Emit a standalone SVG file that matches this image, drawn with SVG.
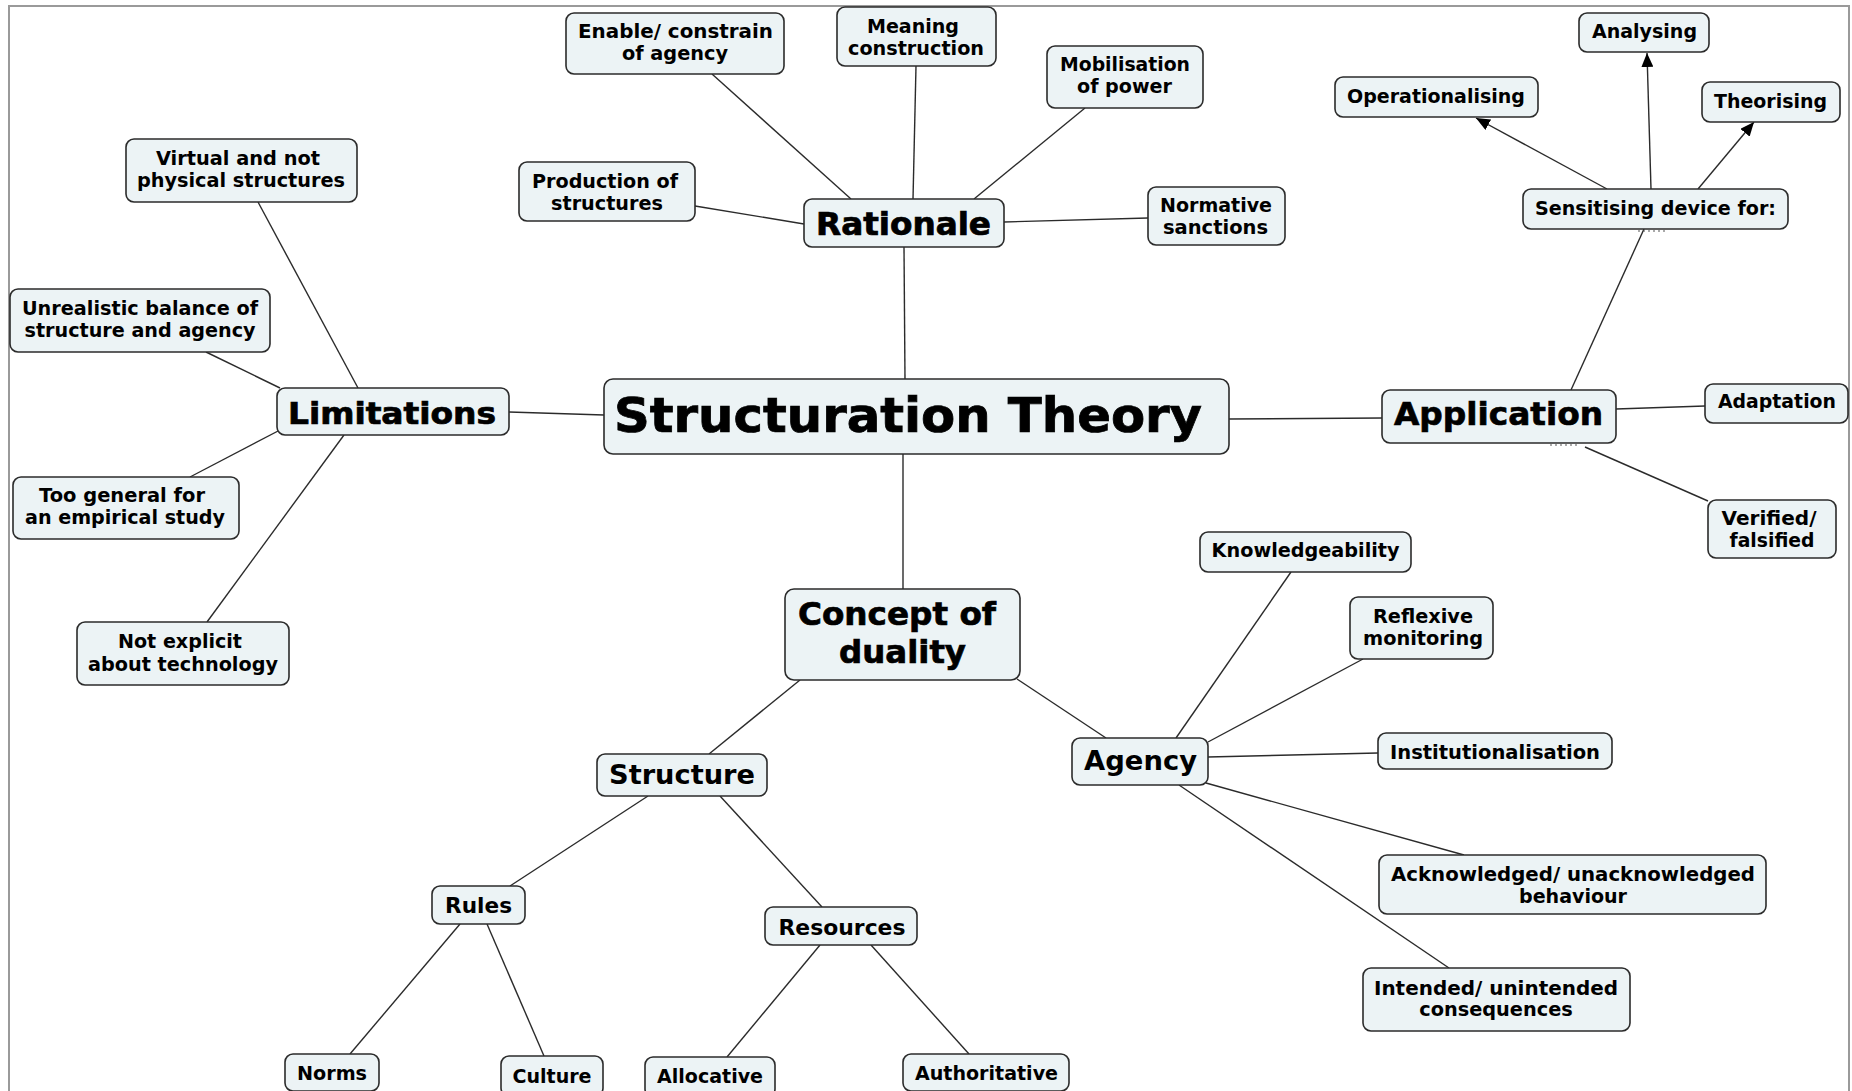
<svg xmlns="http://www.w3.org/2000/svg" width="1852" height="1091" viewBox="0 0 1852 1091">
<style>
.n rect{fill:#ecf3f5;stroke:#2b2b2b;stroke-width:1.6}
text{font-family:"DejaVu Sans","Verdana",sans-serif;font-weight:bold;fill:#000;text-anchor:middle}
.c{font-family:"DejaVu Sans Condensed","DejaVu Sans","Liberation Sans",sans-serif}
.h{stroke:#000;stroke-width:0.7}
.s{font-size:19px}
.m{font-size:20px}
#connectors line{stroke:#2b2b2b;stroke-width:1.4}
.dots{stroke:#555;stroke-width:1.2;stroke-dasharray:2 3}
</style>
<defs>
<marker id="arr" markerUnits="userSpaceOnUse" markerWidth="14" markerHeight="12" refX="14" refY="6" orient="auto">
<path d="M0,0 L14,6 L0,12 z" fill="#000"/>
</marker>
</defs>
<rect x="0" y="0" width="1852" height="1091" fill="#fff"/>
<path d="M9,1091 V6 H1849 V1091" fill="none" stroke="#9a9a9a" stroke-width="2"/>
<g id="connectors">
<line x1="904" y1="247" x2="905" y2="379"/>
<line x1="712" y1="74" x2="851" y2="199"/>
<line x1="916" y1="66" x2="913" y2="199"/>
<line x1="1085" y1="108" x2="974" y2="199"/>
<line x1="695" y1="206" x2="804" y2="224"/>
<line x1="1004" y1="222" x2="1148" y2="218"/>
<line x1="509" y1="412" x2="604" y2="415"/>
<line x1="258" y1="202" x2="358" y2="388"/>
<line x1="206" y1="352" x2="280" y2="388"/>
<line x1="280" y1="430" x2="190" y2="477"/>
<line x1="344" y1="435" x2="207" y2="622"/>
<line x1="1229" y1="419" x2="1382" y2="418"/>
<line x1="1571" y1="390" x2="1644" y2="229"/>
<line x1="1607" y1="189" x2="1476" y2="118" marker-end="url(#arr)"/>
<line x1="1651" y1="189" x2="1647" y2="53" marker-end="url(#arr)"/>
<line x1="1698" y1="189" x2="1754" y2="122" marker-end="url(#arr)"/>
<line x1="1616" y1="409" x2="1705" y2="406"/>
<line x1="1585" y1="447" x2="1708" y2="501"/>
<line x1="903" y1="454" x2="903" y2="589"/>
<line x1="800" y1="680" x2="709" y2="754"/>
<line x1="1017" y1="679" x2="1106" y2="738"/>
<line x1="648" y1="796" x2="510" y2="886"/>
<line x1="720" y1="796" x2="822" y2="907"/>
<line x1="460" y1="924" x2="350" y2="1054"/>
<line x1="487" y1="924" x2="544" y2="1056"/>
<line x1="820" y1="945" x2="727" y2="1057"/>
<line x1="871" y1="945" x2="969" y2="1054"/>
<line x1="1176" y1="738" x2="1291" y2="572"/>
<line x1="1208" y1="742" x2="1363" y2="659"/>
<line x1="1208" y1="757" x2="1378" y2="753"/>
<line x1="1206" y1="783" x2="1464" y2="855"/>
<line x1="1179" y1="785" x2="1449" y2="968"/>
</g>
<line class="dots" x1="1638" y1="231" x2="1667" y2="231"/>
<line class="dots" x1="1550" y1="445" x2="1579" y2="445"/>

<g id="n-theory" class="n"><rect x="604" y="379" width="625" height="75" rx="9"/><text class="c h" x="908" y="432" font-size="48" textLength="588" lengthAdjust="spacingAndGlyphs">Structuration Theory</text></g>
<g id="n-rationale" class="n"><rect x="804" y="199" width="200" height="48" rx="8"/><text class="c h" x="903.5" y="235" font-size="32" textLength="175" lengthAdjust="spacingAndGlyphs">Rationale</text></g>
<g id="n-enable" class="n"><rect x="566" y="13" width="218" height="61" rx="8"/><text class="c m" x="675.5" y="38" textLength="195" lengthAdjust="spacingAndGlyphs">Enable/ constrain</text><text class="c m" x="675" y="60" textLength="106" lengthAdjust="spacingAndGlyphs">of agency</text></g>
<g id="n-meaning" class="n"><rect x="837" y="7" width="159" height="59" rx="8"/><text class="c m" x="913" y="33" textLength="92" lengthAdjust="spacingAndGlyphs">Meaning</text><text class="c m" x="916" y="55" textLength="136" lengthAdjust="spacingAndGlyphs">construction</text></g>
<g id="n-mobilisation" class="n"><rect x="1047" y="46" width="156" height="62" rx="8"/><text class="c m" x="1125" y="71" textLength="130" lengthAdjust="spacingAndGlyphs">Mobilisation</text><text class="c m" x="1124.5" y="93" textLength="95" lengthAdjust="spacingAndGlyphs">of power</text></g>
<g id="n-production" class="n"><rect x="519" y="162" width="176" height="59" rx="8"/><text class="c m" x="605" y="188" textLength="146" lengthAdjust="spacingAndGlyphs">Production of</text><text class="c m" x="607" y="210" textLength="112" lengthAdjust="spacingAndGlyphs">structures</text></g>
<g id="n-normative" class="n"><rect x="1148" y="187" width="137" height="58" rx="8"/><text class="c m" x="1216" y="212" textLength="112" lengthAdjust="spacingAndGlyphs">Normative</text><text class="c m" x="1215.5" y="234" textLength="105" lengthAdjust="spacingAndGlyphs">sanctions</text></g>
<g id="n-limitations" class="n"><rect x="277" y="388" width="232" height="47" rx="8"/><text class="c h" x="392" y="424" font-size="31" textLength="208" lengthAdjust="spacingAndGlyphs">Limitations</text></g>
<g id="n-virtual" class="n"><rect x="126" y="139" width="231" height="63" rx="8"/><text class="c m" x="238" y="165" textLength="164" lengthAdjust="spacingAndGlyphs">Virtual and not</text><text class="c m" x="241" y="187" textLength="208" lengthAdjust="spacingAndGlyphs">physical structures</text></g>
<g id="n-unrealistic" class="n"><rect x="10" y="289" width="260" height="63" rx="8"/><text class="c m" x="140" y="315" textLength="236" lengthAdjust="spacingAndGlyphs">Unrealistic balance of</text><text class="c m" x="140" y="337" textLength="231" lengthAdjust="spacingAndGlyphs">structure and agency</text></g>
<g id="n-toogeneral" class="n"><rect x="13" y="477" width="226" height="62" rx="8"/><text class="s" x="122" y="502" textLength="166" lengthAdjust="spacingAndGlyphs">Too general for</text><text class="s" x="125" y="524" textLength="200" lengthAdjust="spacingAndGlyphs">an empirical study</text></g>
<g id="n-notexplicit" class="n"><rect x="77" y="622" width="212" height="63" rx="8"/><text class="s" x="180" y="648" textLength="124" lengthAdjust="spacingAndGlyphs">Not explicit</text><text class="s" x="183" y="671" textLength="190" lengthAdjust="spacingAndGlyphs">about technology</text></g>
<g id="n-application" class="n"><rect x="1382" y="390" width="234" height="53" rx="8"/><text class="h" x="1498.5" y="425" font-size="32" textLength="209" lengthAdjust="spacingAndGlyphs">Application</text></g>
<g id="n-sensitising" class="n"><rect x="1523" y="189" width="265" height="40" rx="8"/><text class="s" x="1655.5" y="215" textLength="241" lengthAdjust="spacingAndGlyphs">Sensitising device for:</text></g>
<g id="n-operationalising" class="n"><rect x="1335" y="77" width="203" height="40" rx="8"/><text class="s" x="1436" y="102.6" textLength="178" lengthAdjust="spacingAndGlyphs">Operationalising</text></g>
<g id="n-analysing" class="n"><rect x="1579" y="13" width="130" height="39" rx="8"/><text class="s" x="1644.5" y="38" textLength="105" lengthAdjust="spacingAndGlyphs">Analysing</text></g>
<g id="n-theorising" class="n"><rect x="1702" y="82" width="138" height="40" rx="8"/><text class="s" x="1770.5" y="108" textLength="113" lengthAdjust="spacingAndGlyphs">Theorising</text></g>
<g id="n-adaptation" class="n"><rect x="1705" y="384" width="143" height="39" rx="8"/><text class="s" x="1777" y="408" textLength="118" lengthAdjust="spacingAndGlyphs">Adaptation</text></g>
<g id="n-verified" class="n"><rect x="1708" y="500" width="128" height="58" rx="8"/><text class="s" x="1769" y="525" textLength="95" lengthAdjust="spacingAndGlyphs">Verified/</text><text class="s" x="1772" y="547" textLength="85" lengthAdjust="spacingAndGlyphs">falsified</text></g>
<g id="n-concept" class="n"><rect x="785" y="589" width="235" height="91" rx="9"/><text class="h" x="897" y="625" font-size="32" textLength="198" lengthAdjust="spacingAndGlyphs">Concept of</text><text class="h" x="902.5" y="662.6" font-size="32" textLength="127" lengthAdjust="spacingAndGlyphs">duality</text></g>
<g id="n-structure" class="n"><rect x="597" y="754" width="170" height="42" rx="8"/><text x="682" y="784" font-size="26" textLength="146" lengthAdjust="spacingAndGlyphs">Structure</text></g>
<g id="n-agency" class="n"><rect x="1072" y="738" width="136" height="47" rx="8"/><text x="1140.5" y="770" font-size="27" textLength="113" lengthAdjust="spacingAndGlyphs">Agency</text></g>
<g id="n-rules" class="n"><rect x="432" y="886" width="93" height="38" rx="8"/><text x="478.5" y="913" font-size="21" textLength="67" lengthAdjust="spacingAndGlyphs">Rules</text></g>
<g id="n-resources" class="n"><rect x="765" y="907" width="152" height="38" rx="8"/><text x="842" y="934.5" font-size="21" textLength="127" lengthAdjust="spacingAndGlyphs">Resources</text></g>
<g id="n-norms" class="n"><rect x="285" y="1054" width="94" height="37" rx="8"/><text class="m" x="332" y="1080" textLength="70" lengthAdjust="spacingAndGlyphs">Norms</text></g>
<g id="n-culture" class="n"><rect x="501" y="1056" width="102" height="40" rx="8"/><text class="m" x="552" y="1083" textLength="79" lengthAdjust="spacingAndGlyphs">Culture</text></g>
<g id="n-allocative" class="n"><rect x="645" y="1057" width="130" height="40" rx="8"/><text class="m" x="710" y="1083" textLength="106" lengthAdjust="spacingAndGlyphs">Allocative</text></g>
<g id="n-authoritative" class="n"><rect x="903" y="1054" width="166" height="37" rx="8"/><text class="m" x="986.5" y="1080" textLength="143" lengthAdjust="spacingAndGlyphs">Authoritative</text></g>
<g id="n-knowledgeability" class="n"><rect x="1200" y="532" width="211" height="40" rx="8"/><text class="s" x="1305.6" y="557" textLength="188" lengthAdjust="spacingAndGlyphs">Knowledgeability</text></g>
<g id="n-reflexive" class="n"><rect x="1350" y="597" width="143" height="62" rx="8"/><text class="s" x="1423" y="622.5" textLength="100" lengthAdjust="spacingAndGlyphs">Reflexive</text><text class="s" x="1423" y="645" textLength="120" lengthAdjust="spacingAndGlyphs">monitoring</text></g>
<g id="n-institutionalisation" class="n"><rect x="1378" y="733" width="234" height="36" rx="8"/><text class="s" x="1495" y="759" textLength="210" lengthAdjust="spacingAndGlyphs">Institutionalisation</text></g>
<g id="n-acknowledged" class="n"><rect x="1379" y="855" width="387" height="59" rx="8"/><text class="s" x="1573" y="880.7" textLength="364" lengthAdjust="spacingAndGlyphs">Acknowledged/ unacknowledged</text><text class="s" x="1573" y="903" textLength="108" lengthAdjust="spacingAndGlyphs">behaviour</text></g>
<g id="n-intended" class="n"><rect x="1363" y="968" width="267" height="63" rx="8"/><text class="s" x="1496" y="994.5" textLength="244" lengthAdjust="spacingAndGlyphs">Intended/ unintended</text><text class="s" x="1496" y="1016" textLength="153.5" lengthAdjust="spacingAndGlyphs">consequences</text></g>
</svg>
